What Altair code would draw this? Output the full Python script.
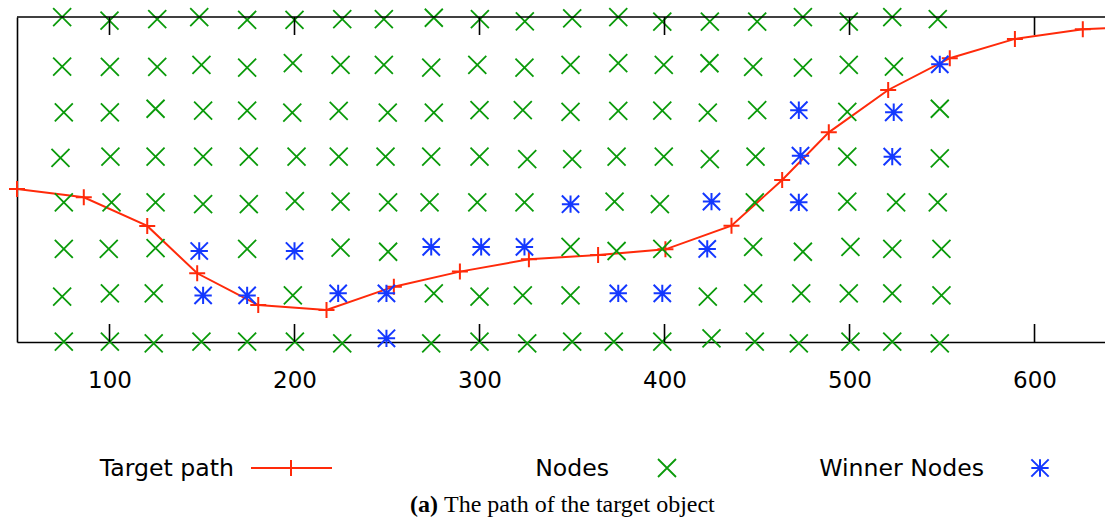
import altair as alt
import pandas as pd

# ---------------- data ----------------
node_x = [
    74.4, 100.0, 125.8, 148.5, 174.4, 200.0, 225.8, 248.3, 275.3, 300.2, 324.5, 350.1, 375.0, 398.8, 424.5, 450.1, 474.8, 499.6, 523.1, 547.7,
    74.4, 100.2, 125.8, 149.7, 174.4, 199.1, 224.9, 248.3, 273.9, 298.8, 324.3, 349.2, 375.0, 399.6, 424.3, 447.9, 474.8, 499.6, 524.0,
    75.3, 100.2, 124.9, 150.6, 174.4, 198.8, 223.9, 250.4, 275.3, 300.0, 323.4, 349.2, 375.0, 398.8, 423.4, 450.1, 498.8, 548.8,
    73.5, 100.5, 124.9, 150.6, 175.3, 201.1, 223.9, 249.2, 273.9, 300.0, 325.8, 350.1, 374.1, 399.6, 424.5, 449.2, 498.8, 548.8,
    75.3, 101.1, 124.9, 150.6, 175.3, 200.2, 224.9, 250.6, 273.0, 298.8, 324.3, 373.0, 397.5, 448.8, 498.8, 525.2, 547.7,
    75.3, 99.6, 124.9, 174.4, 224.9, 250.6, 349.2, 374.1, 398.8, 447.9, 474.8, 500.5, 523.1, 549.7,
    74.4, 100.2, 123.9, 199.1, 275.3, 300.0, 323.4, 349.2, 423.4, 447.9, 473.9, 499.6, 523.1, 549.7,
    75.3, 100.2, 123.9, 149.7, 174.4, 200.2, 225.8, 273.9, 300.0, 325.8, 350.1, 372.6, 398.8, 425.4, 448.8, 472.6, 500.5, 523.1, 548.8,
]
node_y = [
    174.9, 173.0, 173.9, 174.9, 173.4, 173.4, 173.9, 173.9, 174.6, 173.8, 172.7, 174.3, 174.9, 172.5, 172.5, 172.5, 174.9, 172.5, 174.9, 173.9,
    148.3, 148.1, 148.1, 149.2, 147.7, 150.2, 149.2, 149.2, 147.7, 149.2, 147.7, 149.2, 150.2, 149.2, 150.1, 148.1, 147.7, 149.2, 148.3,
    123.7, 123.7, 125.6, 124.6, 124.6, 123.5, 124.4, 123.5, 123.5, 124.8, 124.8, 123.9, 124.4, 124.6, 123.5, 124.8, 123.9, 125.6,
    99.2, 99.8, 99.8, 99.8, 99.8, 99.8, 99.8, 99.8, 99.8, 99.8, 98.5, 98.5, 99.8, 99.8, 98.5, 99.8, 99.8, 98.9,
    75.2, 75.2, 75.2, 74.2, 74.2, 75.9, 75.6, 75.2, 75.2, 75.2, 75.2, 75.6, 74.2, 75.2, 75.6, 75.2, 75.2,
    50.1, 50.1, 50.6, 50.1, 50.8, 48.6, 51.2, 49.0, 50.1, 51.2, 48.6, 51.2, 50.1, 50.1,
    24.4, 26.2, 26.2, 25.1, 26.2, 24.4, 25.1, 25.1, 24.4, 26.2, 26.2, 26.2, 26.2, 25.1,
    0.2, 0.2, -0.7, 0.2, 0.2, 0.2, -0.7, -0.7, 0.2, -0.7, 0.2, 0.2, 0.2, 2.0, 0.2, -0.7, 0.2, 0.2, -0.7,
]
win_x = [548.8, 472.6, 523.9, 473.5, 523.1, 349.2, 425.4, 472.6,
         148.5, 200.0, 273.9, 300.9, 324.3, 423.1,
         150.6, 174.4, 223.6, 249.7, 375.0, 398.8, 249.7]
win_y = [149.5, 124.8, 123.7, 100.3, 99.8, 74.2, 75.6, 75.2,
         49.0, 49.0, 51.2, 51.2, 51.2, 50.1,
         25.1, 25.1, 26.2, 26.2, 26.2, 26.2, 2.0]
path_x = [50.0, 86.1, 120.4, 147.4, 180.4, 217.3, 253.7, 289.4, 326.7, 364.1,
          400.5, 436.2, 463.6, 488.8, 520.9, 554.2, 589.4, 626.1, 662.0]
path_y = [82.4, 77.9, 62.5, 37.0, 19.9, 17.2, 29.8, 37.9, 44.5, 46.8,
          49.9, 62.6, 87.2, 112.9, 135.7, 152.8, 163.2, 168.4, 170.0]
tick_values = [100, 200, 300, 400, 500, 600]
legend_labels = ["Target path", "Nodes", "Winner Nodes"]
caption_bold = "(a)"
caption_text = "The path of the target object"

# ---------------- styling ----------------
RED = "#ff2a0a"
GREEN = "#0a9a0a"
BLUE = "#1438ff"
X_SHAPE = "M-1,-1L1,1M-1,1L1,-1"
PLUS_SHAPE = "M-1,0L1,0M0,-1L0,1"
STAR_SHAPE = "M-1,0L1,0M0,-1L0,1M-1,-1L1,1M-1,1L1,-1"
W, H = 1088, 325
X_MAX = 638.1

xs = alt.Scale(domain=[50, X_MAX], nice=False, zero=False)
ys = alt.Scale(domain=[0, 175], nice=False, zero=False)

nodes = pd.DataFrame({"x": node_x, "y": node_y})
winners = pd.DataFrame({"x": win_x, "y": win_y})
path = pd.DataFrame({"x": path_x, "y": path_y, "i": list(range(len(path_x)))})
ticks = pd.DataFrame({"x": tick_values})
one = pd.DataFrame({"a": [0]})

x_axis = alt.Axis(values=tick_values, format="d", ticks=False, grid=False, domain=True,
                  domainColor="black", domainWidth=1.6, labelFont="DejaVu Sans",
                  labelFontSize=23, labelColor="black", labelBaseline="alphabetic",
                  labelPadding=45, labelFlush=False, title=None)
y_axis = alt.Axis(labels=False, ticks=False, grid=False, domain=True, domainColor="black",
                  domainWidth=1.6, title=None)


def xy():
    return dict(x=alt.X("x:Q", scale=xs, axis=x_axis), y=alt.Y("y:Q", scale=ys, axis=y_axis))


path_line = alt.Chart(path).mark_line(color=RED, strokeWidth=2, clip=True).encode(
    order="i:Q", **xy())
path_pts = alt.Chart(path).transform_filter(f"datum.x <= {X_MAX}").mark_point(
    shape=PLUS_SHAPE, filled=False, color=RED, strokeWidth=2, size=256, opacity=1).encode(**xy())
node_pts = alt.Chart(nodes).mark_point(
    shape=X_SHAPE, filled=False, color=GREEN, strokeWidth=1.8, size=324, opacity=1).encode(**xy())
win_pts = alt.Chart(winners).mark_point(
    shape=STAR_SHAPE, filled=False, color=BLUE, strokeWidth=2, size=300, opacity=1).encode(**xy())

top_border = alt.Chart(one).mark_rule(color="black", strokeWidth=1.6).encode(
    x=alt.value(0), x2=alt.value(W), y=alt.value(0))
top_ticks = alt.Chart(ticks).mark_rule(color="black", strokeWidth=1.6).encode(
    x=alt.X("x:Q", scale=xs, axis=x_axis), y=alt.value(0), y2=alt.value(18))
bot_ticks = alt.Chart(ticks).mark_rule(color="black", strokeWidth=1.6).encode(
    x=alt.X("x:Q", scale=xs, axis=x_axis), y=alt.value(H - 18), y2=alt.value(H))

# ---------------- legend (gnuplot style: label then sample) ----------------
LEG_Y = 451
TXT_Y = 458.5
leg_text = []
for lab, xr in zip(legend_labels, [217, 592, 967]):
    leg_text.append(alt.Chart(pd.DataFrame({"t": [lab]})).mark_text(
        font="DejaVu Sans", fontSize=23.6, align="right", baseline="alphabetic", color="black"
    ).encode(x=alt.value(xr), y=alt.value(TXT_Y), text="t:N"))
leg_line = alt.Chart(one).mark_rule(color=RED, strokeWidth=2).encode(
    x=alt.value(234), x2=alt.value(315), y=alt.value(LEG_Y))
leg_plus = alt.Chart(one).mark_point(shape=PLUS_SHAPE, filled=False, color=RED, strokeWidth=2,
                                     size=256, opacity=1).encode(x=alt.value(274), y=alt.value(LEG_Y))
leg_x = alt.Chart(one).mark_point(shape=X_SHAPE, filled=False, color=GREEN, strokeWidth=1.8,
                                  size=324, opacity=1).encode(x=alt.value(650), y=alt.value(LEG_Y))
leg_star = alt.Chart(one).mark_point(shape=STAR_SHAPE, filled=False, color=BLUE, strokeWidth=2,
                                     size=300, opacity=1).encode(x=alt.value(1023), y=alt.value(LEG_Y))

cap_a = alt.Chart(pd.DataFrame({"t": [caption_bold]})).mark_text(
    font="Liberation Serif", fontSize=24, fontWeight="bold", align="left", baseline="alphabetic",
    color="black").encode(x=alt.value(393), y=alt.value(495), text="t:N")
cap_b = alt.Chart(pd.DataFrame({"t": [caption_text]})).mark_text(
    font="Liberation Serif", fontSize=24, align="left", baseline="alphabetic",
    color="black").encode(x=alt.value(427), y=alt.value(495), text="t:N")

chart = alt.layer(
    path_line, path_pts, node_pts, win_pts, top_border, top_ticks, bot_ticks,
    *leg_text, leg_line, leg_plus, leg_x, leg_star, cap_a, cap_b
).properties(
    width=W, height=H,
    autosize=alt.AutoSizeParams(type="none"),
    padding={"left": 17, "top": 17, "right": 0, "bottom": 175},
    background="white",
).configure_view(stroke=None)

chart.save("out.html", embed_options={"renderer": "svg", "actions": False})
